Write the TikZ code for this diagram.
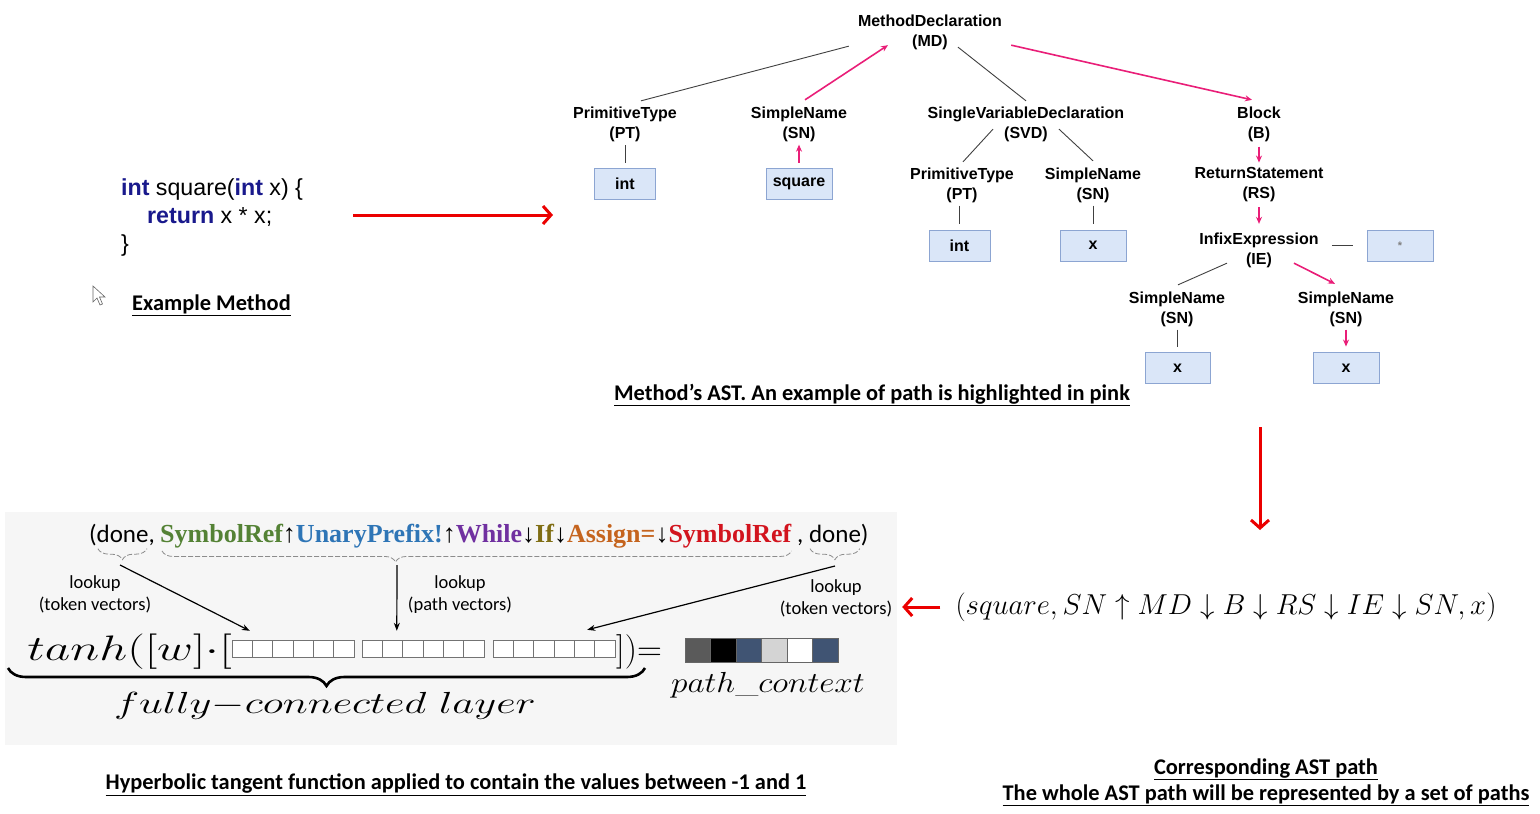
\RequirePackage{fix-cm}
\documentclass[tikz,border=0pt]{standalone}
\usepackage{fontspec}
\usetikzlibrary{arrows.meta, positioning, calc, decorations.pathreplacing}
\newfontfamily\arialfont{Liberation Sans}
\newfontfamily\calfont{Carlito}
\newfontfamily\timesfont{Liberation Serif}
\definecolor{astpink}{RGB}{233, 30, 120}
\definecolor{leaffill}{RGB}{218, 230, 248}
\definecolor{leafedge}{RGB}{140, 165, 210}
\definecolor{kwblue}{RGB}{25, 25, 140}
\definecolor{arrowred}{RGB}{235, 0, 0}
\definecolor{panelgray}{RGB}{246, 246, 246}
\definecolor{tokgreen}{RGB}{84, 130, 53}
\definecolor{tokblue}{RGB}{46, 117, 182}
\definecolor{tokpurple}{RGB}{112, 48, 160}
\definecolor{tokolive}{RGB}{128, 110, 20}
\definecolor{tokorange}{RGB}{197, 100, 30}
\definecolor{tokred}{RGB}{210, 20, 30}
\definecolor{pcdark}{RGB}{90, 90, 90}
\definecolor{pcslate}{RGB}{64, 84, 115}
\definecolor{pclight}{RGB}{212, 212, 212}
\newcommand{\astfont}{\arialfont\bfseries\fontsize{16}{20}\selectfont}
\newcommand{\capfont}{\calfont\bfseries\fontsize{22.4}{26}\selectfont}
\newcommand{\kw}[1]{\textbf{\color{kwblue}#1}}

\begin{document}
\begin{tikzpicture}[
    x=1pt, y=-1pt,
    astnode/.style={font=\astfont, align=center, inner sep=2pt, yshift=-2pt},
    leafbox/.style={draw=leafedge, fill=leaffill, line width=0.9pt, minimum width=66pt, minimum height=31pt, inner sep=0pt, font=\astfont},
    treeedge/.style={draw=black!75, line width=0.9pt},
    pinkedge/.style={draw=astpink, line width=1.6pt, -{Stealth[length=7pt, width=6pt]}},
    redarrow/.style={draw=arrowred, line width=3pt, -{Straight Barb[length=8pt, width=18pt]}},
    caption/.style={font=\capfont, align=center, inner sep=0pt},
    lookup/.style={font=\calfont\fontsize{18.5}{22}\selectfont, align=center, inner sep=0pt},
    lookbrace/.style={draw=black!45, line width=0.8pt, dash pattern=on 5pt off 2pt, decorate, decoration={brace, mirror, amplitude=11pt}},
    lookarrow/.style={draw=black, line width=1.2pt, -{Stealth[length=8pt, width=6pt]}},
    cellgrp/.style={minimum width=122pt, minimum height=17pt, inner sep=0pt},
    cellline/.style={draw=black!55, line width=0.8pt, fill=white}
]
    \useasboundingbox (0,0) rectangle (1540,814);

    % Grey panel behind the tanh formula
    \node[fill=panelgray, minimum width=892pt, minimum height=233pt, inner sep=0pt] (panel) at (451,628.5) {};

    % Example method
    \node[anchor=west, align=left, inner sep=0pt, font=\arialfont\fontsize{23.2}{28}\selectfont] (code) at (121,217)
        {\kw{int} square(\kw{int} x) \{\\\hspace*{26pt}\kw{return} x * x;\\\}};
    \node[caption, anchor=west] (excap) at (132,305) {\underline{Example Method}};
    \draw[black!60, line width=0.6pt, fill=white] (93,286) -- ++(0,16) -- ++(4,-4) -- ++(3,7) -- ++(2.5,-1) -- ++(-3,-7) -- ++(5.5,0) -- cycle;

    % AST nodes
    \node[astnode] (md) at (930,30) {MethodDeclaration\\(MD)};
    \node[astnode] (pt1) at (625,122) {PrimitiveType\\(PT)};
    \node[astnode] (sn1) at (799,122) {SimpleName\\(SN)};
    \node[astnode] (svd) at (1026,122) {SingleVariableDeclaration\\(SVD)};
    \node[astnode] (blk) at (1259,122) {Block\\(B)};
    \node[astnode] (pt2) at (962,183) {PrimitiveType\\(PT)};
    \node[astnode] (sn2) at (1093,183) {SimpleName\\(SN)};
    \node[astnode] (rs) at (1259,183) {ReturnStatement\\(RS)};
    \node[astnode] (ie) at (1259,248) {InfixExpression\\(IE)};
    \node[astnode] (sn3) at (1177,307) {SimpleName\\(SN)};
    \node[astnode] (sn4) at (1346,307) {SimpleName\\(SN)};

    % AST leaves
    \node[leafbox, minimum width=61pt] (int1) at (625,184) {int};
    \node[leafbox] (sq) at (799,184) {square};
    \node[leafbox, minimum width=61pt] (int2) at (959.5,245.5) {int};
    \node[leafbox] (xa) at (1093,245.5) {x};
    \node[leafbox] (star) at (1400,245.5) {\textcolor{black!50}{\fontsize{11}{11}\selectfont *}};
    \node[leafbox, minimum width=65pt] (xb) at (1177.5,368) {x};
    \node[leafbox] (xc) at (1346,368) {x};

    % AST edges
    \draw[treeedge] ([shift={(-7,-5.5)}]md.south west) -- ([shift={(16,-3.5)}]pt1.north);
    \draw[pinkedge] ([shift={(6,-4.5)}]sn1.north) -- ([shift={(-42,-6.5)}]md.south);
    \draw[treeedge] ([shift={(28,-4.5)}]md.south) -- ([shift={(0,-3.5)}]svd.north);
    \draw[pinkedge] ([shift={(7,-6.5)}]md.south east) -- ([shift={(-7,-4.5)}]blk.north);
    \draw[treeedge, shorten <=1.5pt, shorten >=5pt] (pt1) -- (int1);
    \draw[pinkedge, shorten <=5.5pt, shorten >=1pt] (sq) -- (sn1);
    \draw[treeedge] ([shift={(-33,-14.5)}]svd.south) -- ([shift={(1,-3.5)}]pt2.north);
    \draw[treeedge] ([shift={(33,-14.5)}]svd.south) -- ([shift={(0,-4.5)}]sn2.north);
    \draw[treeedge, shorten <=1pt, shorten >=6pt] (pt2.south -| int2.north) -- (int2.north);
    \draw[treeedge, shorten <=1pt, shorten >=6pt] (sn2) -- (xa);
    \draw[pinkedge, shorten <=3pt, shorten >=3pt] (blk) -- (rs);
    \draw[pinkedge, shorten <=3pt, shorten >=6.5pt] (rs) -- (ie);
    \draw[treeedge, shorten <=11pt, shorten >=14pt] (ie.east |- star.west) -- (star.west);
    \draw[treeedge] ([shift={(-32,-6.5)}]ie.south) -- ([shift={(1,-4.5)}]sn3.north);
    \draw[pinkedge] ([shift={(35,-6.5)}]ie.south) -- ([shift={(-11,-5.5)}]sn4.north);
    \draw[treeedge, shorten <=1pt, shorten >=5.5pt] (sn3) -- (sn3 |- xb.north);
    \draw[pinkedge, shorten <=1pt, shorten >=5.5pt] (sn4) -- (xc);
    \node[caption] (astcap) at (872,395) {\underline{Method’s AST. An example of path is highlighted in pink}};

    % Path in symbols
    \node[font=\fontsize{28.8}{32}\selectfont, inner sep=0pt] (pathf) at (1226,607)
        {$(square, SN\uparrow MD\downarrow B\downarrow RS\downarrow IE\downarrow SN, x)$};
    \node[caption] (pathcap) at (1266,782) {\underline{Corresponding AST path}\\\underline{The whole AST path will be represented by a set of paths}};

    % Red arrows between the parts
    \coordinate (astin) at (553,215);
    \coordinate (redtop) at (1260,427);
    \coordinate (redbot) at (1260,530);
    \draw[redarrow, shorten <=50pt] (code.east |- astin) -- (astin);
    \draw[redarrow] (redtop) -- (redbot);
    \draw[redarrow, shorten <=15pt, shorten >=5pt] (pathf.west) -- (panel.east |- pathf.west);

    % Path context row
    \node[anchor=base east, inner sep=0pt, font=\calfont\fontsize{25}{30}\selectfont] (done1) at (155,542) {(done,};
    \node[anchor=base west, inner sep=0pt, font=\timesfont\bfseries\fontsize{26}{30}\selectfont] (seq) at (160,542)
        {\textcolor{tokgreen}{SymbolRef}{\mdseries ↑}\textcolor{tokblue}{UnaryPrefix!}{\mdseries ↑}\textcolor{tokpurple}{While}{\mdseries ↓}\textcolor{tokolive}{If}{\mdseries ↓}\textcolor{tokorange}{Assign=}{\mdseries ↓}\textcolor{tokred}{SymbolRef}};
    \node[anchor=base west, inner sep=0pt, font=\calfont\fontsize{25}{30}\selectfont] (done2) at (797,542) {, done)};
    \draw[lookbrace] ([shift={(9,3)}]done1.south west) -- ([shift={(-8,3)}]done1.south east);
    \draw[lookbrace, decoration={aspect=0.371}] ([shift={(2,3)}]seq.south west) -- ([shift={(0,3)}]seq.south east);
    \draw[lookbrace] ([shift={(13,3)}]done2.south west) -- ([shift={(-9,3)}]done2.south east);
    \coordinate (tipA) at (120,565);
    \coordinate (tipB) at (397,565);
    \coordinate (tipC) at (835,566);
    \node[lookup] (lkA) at (95,594) {lookup\\(token vectors)};
    \node[lookup] (lkB) at (460,595) {lookup\\(path vectors)};
    \node[lookup] (lkC) at (836,598) {lookup\\(token vectors)};

    % Fully connected layer
    \node[anchor=base east, inner sep=0pt, xscale=1.4, transform shape, font=\fontsize{35.4}{40}\selectfont] (tanh) at (232,660) {$tanh([w]\mathord{\cdot}[$};
    \foreach \gx [count=\g] in {232,362,493} {
        \node[cellgrp] (grp\g) at (\gx+61,648.5) {};
        \foreach \c in {0,...,5}
            \draw[cellline] (\gx+\c*20.33,640) rectangle ++(20.33,17);
    }
    \node[anchor=base west, inner sep=0pt, font=\fontsize{34.5}{40}\selectfont] (close) at (616,660) {$])\mathord{=}$};
    \foreach \col [count=\i from 0] in {pcdark,black,pcslate,pclight,white,pcslate}
        \draw[draw=black!60, line width=0.5pt, fill=\col] (685+\i*25.5,638) rectangle ++(25.5,24);
    \draw[lookarrow] (tipA) -- ([shift={(18,-9)}]grp1.north west);
    \draw[lookarrow] (tipB) -- ([shift={(35,-9)}]grp2.north west);
    \draw[lookarrow] (tipC) -- ([shift={(-28,-10)}]grp3.north east);
    \draw[line width=2.6pt, decorate, decoration={brace, mirror, amplitude=18pt}] (8,668) -- (645,668);
    \node[anchor=base, inner sep=0pt, xscale=1.4, transform shape, font=\fontsize{30.5}{36}\selectfont] (fcl) at (325,713) {$fully\mathord{-}connected\ layer$};
    \node[anchor=base, inner sep=0pt, xscale=1.15, transform shape, font=\fontsize{29}{34}\selectfont] (pctx) at (768,692) {$path\_context$};
    \node[caption] (tanhcap) at (456,785) {\underline{Hyperbolic tangent function applied to contain the values between -1 and 1}};
\end{tikzpicture}
\end{document}
